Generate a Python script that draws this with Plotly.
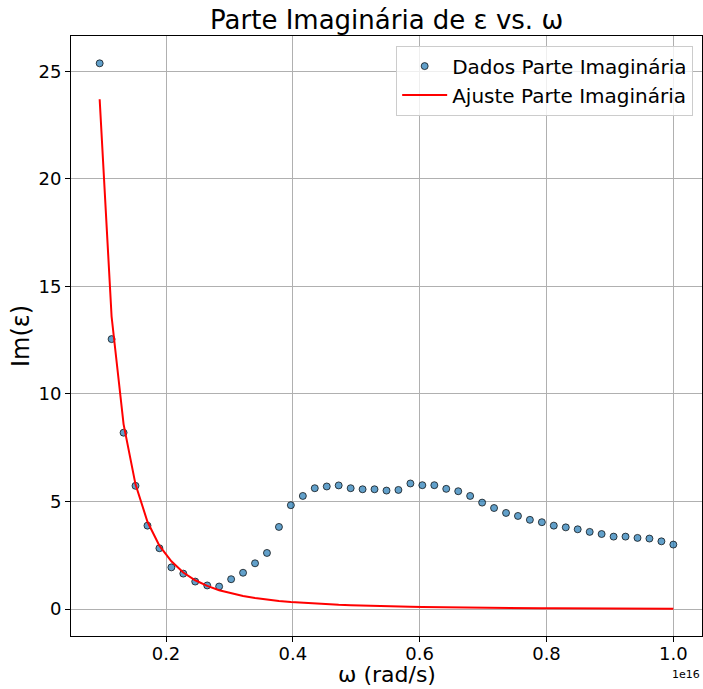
import plotly.graph_objects as go

# omega in units of 1e16 rad/s
omega = [0.0954, 0.1142, 0.1331, 0.1519, 0.1708, 0.1896, 0.2085, 0.2273, 0.2461,
         0.2650, 0.2838, 0.3027, 0.3215, 0.3404, 0.3592, 0.3781, 0.3969, 0.4158,
         0.4346, 0.4535, 0.4723, 0.4912, 0.5100, 0.5288, 0.5477, 0.5665, 0.5854,
         0.6042, 0.6231, 0.6419, 0.6608, 0.6796, 0.6985, 0.7173, 0.7362, 0.7550,
         0.7738, 0.7927, 0.8115, 0.8304, 0.8492, 0.8681, 0.8869, 0.9058, 0.9246,
         0.9435, 0.9623, 0.9812, 1.0000]

im_data = [25.37, 12.55, 8.20, 5.73, 3.88, 2.83, 1.94, 1.65, 1.28,
           1.10, 1.05, 1.39, 1.69, 2.13, 2.61, 3.82, 4.83, 5.26,
           5.62, 5.70, 5.75, 5.62, 5.57, 5.57, 5.51, 5.54, 5.84,
           5.76, 5.76, 5.59, 5.48, 5.26, 4.95, 4.70, 4.47, 4.33,
           4.15, 4.04, 3.88, 3.80, 3.71, 3.59, 3.49, 3.37, 3.37,
           3.31, 3.28, 3.15, 3.00]

im_fit = [23.7, 13.6, 8.6, 5.8, 4.06, 2.95, 2.22, 1.70, 1.34,
          1.08, 0.88, 0.73, 0.61, 0.52, 0.44, 0.38, 0.33, 0.29,
          0.25, 0.22, 0.20, 0.18, 0.16, 0.14, 0.13, 0.12, 0.105,
          0.095, 0.087, 0.079, 0.072, 0.066, 0.061, 0.056, 0.052, 0.048,
          0.045, 0.042, 0.039, 0.036, 0.034, 0.032, 0.030, 0.028, 0.026,
          0.025, 0.023, 0.022, 0.021]

x_ticks = [0.2, 0.4, 0.6, 0.8, 1.0]
y_ticks = [0, 5, 10, 15, 20, 25]

FONT = "DejaVu Sans"

fig = go.Figure()
fig.add_trace(go.Scatter(
    x=omega, y=im_data, mode="markers", name="Dados Parte Imaginária",
    legendgroup="a",
    marker=dict(size=7, color="rgba(31,119,180,0.7)",
                line=dict(color="rgba(0,0,0,0.7)", width=1)),
))
fig.add_trace(go.Scatter(
    x=omega, y=im_fit, mode="lines", name="Ajuste Parte Imaginária",
    legendgroup="b",
    line=dict(color="red", width=2),
))

fig.update_layout(
    width=703, height=689,
    margin=dict(l=71, r=1, t=36, b=53),
    paper_bgcolor="white", plot_bgcolor="white",
    font=dict(family=FONT, color="black", size=18),
    title=dict(text="Parte Imaginária de ε vs. ω", x=0.55, xanchor="center",
               xref="container", yref="container", y=1 - 20 / 689, yanchor="middle",
               font=dict(size=26, family=FONT)),
    legend=dict(x=0.986, y=0.984, xanchor="right", yanchor="top",
                bgcolor="rgba(255,255,255,0.8)", bordercolor="#cccccc", borderwidth=1,
                font=dict(size=20, family=FONT), itemwidth=45,
                traceorder="grouped", tracegroupgap=0),
    showlegend=True,
)
fig.update_xaxes(
    range=[0.0502, 1.0452], tickvals=x_ticks, ticktext=[f"{v:.1f}" for v in x_ticks],
    showgrid=True, gridcolor="#b0b0b0", gridwidth=1, automargin=False,
    showline=True, linecolor="black", linewidth=1, mirror=True,
    ticks="outside", ticklen=5, tickcolor="black", zeroline=False,
    tickfont=dict(size=18), ticklabelstandoff=-4,
)
fig.update_yaxes(
    range=[-1.25, 26.64], tickvals=y_ticks, ticktext=[str(v) for v in y_ticks],
    showgrid=True, gridcolor="#b0b0b0", gridwidth=1, automargin=False,
    showline=True, linecolor="black", linewidth=1, mirror=True,
    ticks="outside", ticklen=5, tickcolor="black", zeroline=False,
    tickfont=dict(size=18), title=dict(text="Im(ε)", font=dict(size=24), standoff=2),
)
fig.add_annotation(text="ω (rad/s)", xref="paper", yref="paper", x=0.5, y=-0.0867,
                   xanchor="center", yanchor="bottom", showarrow=False, borderpad=0,
                   font=dict(size=22, family=FONT))
fig.add_annotation(text="1e16", xref="paper", yref="paper", x=1.0, y=-0.05,
                   xanchor="right", yanchor="top", showarrow=False,
                   font=dict(size=11, family=FONT))

fig.write_html("out.html")
